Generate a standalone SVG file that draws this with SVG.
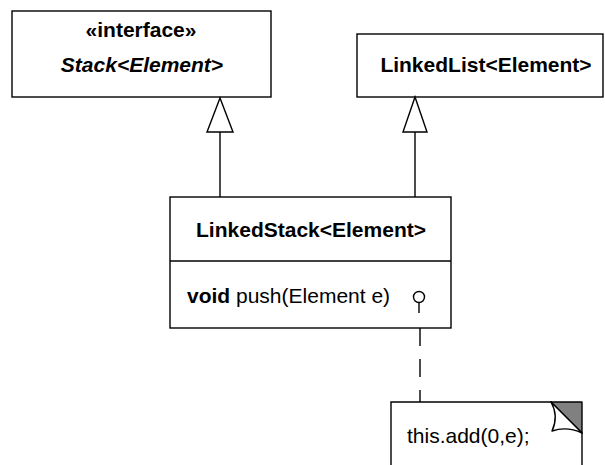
<svg xmlns="http://www.w3.org/2000/svg" width="605" height="465" viewBox="0 0 605 465">
  <style>
    .box { fill: #ffffff; stroke: #000000; stroke-width: 1.4; }
    .line { fill: none; stroke: #000000; stroke-width: 1.4; }
    .dash { fill: none; stroke: #000000; stroke-width: 1.4; stroke-dasharray: 18 13; }
    .head { fill: #ffffff; stroke: #000000; stroke-width: 1.4; stroke-linejoin: miter; }
    text { font-family: "Liberation Sans", Arial, sans-serif; font-size: 21px; fill: #000000; }
    .b { font-weight: bold; }
    .bi { font-weight: bold; font-style: italic; }
    .c { text-anchor: middle; }
  </style>

  <rect width="605" height="465" fill="#ffffff"/>

  <!-- interface Stack<Element> -->
  <g id="stack">
    <rect class="box" x="12" y="11" width="259" height="86"/>
    <text class="b c" x="141" y="37">«interface»</text>
    <text class="bi c" x="142" y="72">Stack&lt;Element&gt;</text>
  </g>

  <!-- class LinkedList<Element> -->
  <g id="linkedlist">
    <rect class="box" x="357" y="34" width="246" height="63"/>
    <text class="b c" x="486" y="72">LinkedList&lt;Element&gt;</text>
  </g>

  <!-- class LinkedStack<Element> -->
  <g id="linkedstack">
    <rect class="box" x="170" y="197" width="281" height="131"/>
    <line class="line" x1="170" y1="261" x2="451" y2="261"/>
    <text class="b c" x="311" y="237">LinkedStack&lt;Element&gt;</text>
    <text x="187" y="303"><tspan class="b">void</tspan> push(Element e)</text>
  </g>

  <!-- note attached to push() -->
  <g id="note">
    <path class="box" d="M391,470 V402 H551 L582,433 V470"/>
    <path d="M551,402 H582 V433 Z" fill="#808080" stroke="#000000" stroke-width="1.4" stroke-linejoin="round"/>
    <path d="M551,402 Q559,416 552,431 Q567,426 582,433 Z" fill="#ffffff" stroke="#000000" stroke-width="1.4" stroke-linejoin="round"/>
    <text x="407" y="443">this.add(0,e);</text>
  </g>

  <!-- connectors -->
  <g id="connectors">
    <!-- generalization: LinkedStack -> Stack -->
    <line class="line" x1="220" y1="197" x2="220" y2="132"/>
    <polygon class="head" points="220,98 207,132 233,132"/>
    <!-- generalization: LinkedStack -> LinkedList -->
    <line class="line" x1="415" y1="197" x2="415" y2="132"/>
    <polygon class="head" points="415,97 403,132 427,132"/>
    <!-- note anchor -->
    <circle class="line" cx="419" cy="297" r="5.5"/>
    <line class="line" x1="419" y1="302.5" x2="419" y2="313"/>
    <line class="dash" x1="420" y1="328" x2="420" y2="402"/>
  </g>
</svg>
